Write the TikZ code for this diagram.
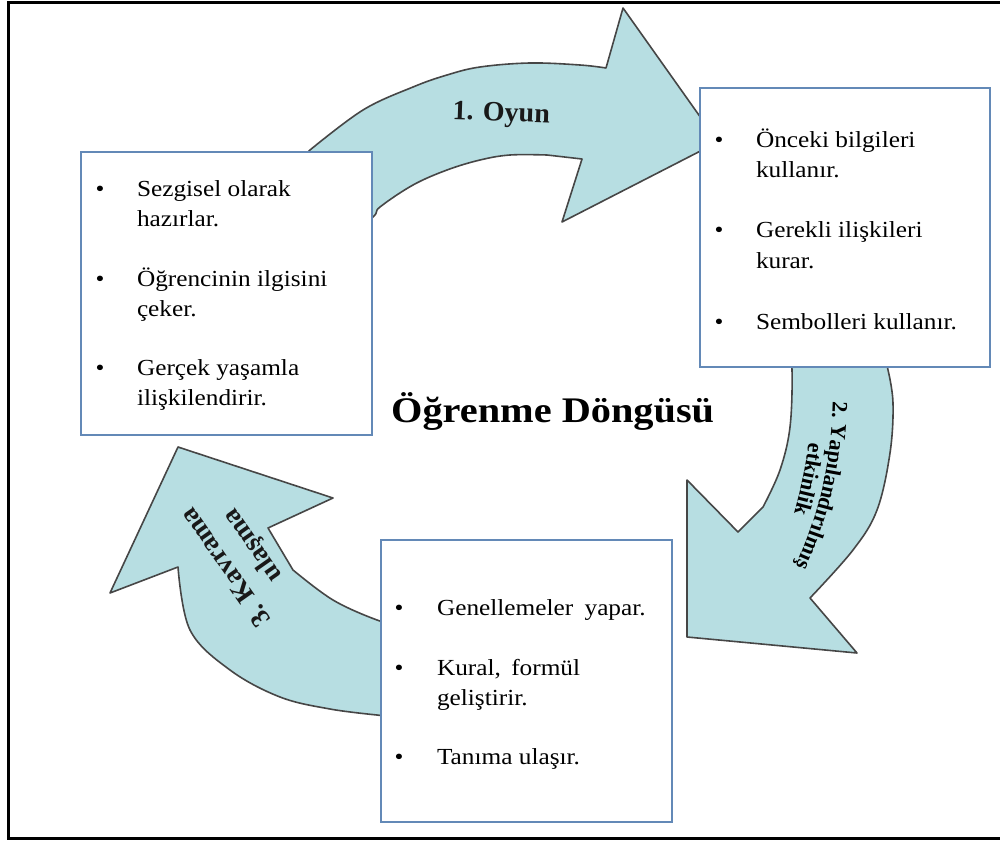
\documentclass[tikz,border=0pt]{standalone}
\usepackage{fontspec}
\setmainfont{Liberation Serif}
\newfontfamily\boxfont[FakeStretch=1.1]{Liberation Serif}
\newfontfamily\headfont[FakeStretch=1.12]{Liberation Serif}
\usetikzlibrary{decorations.text}

\definecolor{arrowfill}{RGB}{183,222,226}
\definecolor{arrowline}{RGB}{70,70,70}
\definecolor{boxline}{RGB}{99,137,183}

\newcommand\labtwo{\bfseries\fontsize{22}{26}\selectfont}

\tikzset{
  arrowshape/.style={fill=arrowfill, draw=arrowline, line width=1.6pt, line join=round},
  listbox/.style={draw=boxline, fill=white, line width=1.3pt, inner sep=0pt, outer sep=0pt},
  itemtext/.style={inner sep=0pt, outer sep=0pt, anchor=base west,
    font=\boxfont\fontsize{23}{28}\selectfont},
  bulletmark/.style={inner sep=0pt, outer sep=0pt, anchor=base,
    font=\boxfont\fontsize{23}{28}\selectfont},
  arrowlabel/.style={inner sep=0pt, outer sep=0pt, text=black!90},
  frameline/.style={draw=black, line width=2.5pt},
}

% one list line: name, x, baseline y, text
\newcommand\itemline[4]{\node[itemtext] (#1) at (#2,#3) {#4};}
\newcommand\itemdot[3]{\node[bulletmark] (#1) at (#2,#3) {\textbullet};}

\begin{document}
\begin{tikzpicture}[x=1pt, y=-1pt]
\useasboundingbox (0,0) rectangle (1000,840);

% outer frame
\draw[frameline] (8.3,2.5) rectangle (1015,838.5);

% curved arrow 1: top, towards the right
\filldraw[arrowshape] (285,175) -- plot[smooth, tension=0.6] coordinates
  {(310,150) (363,110) (413,87) (447,75) (480,67) (530,63) (580,65) (606,68)}
  -- (623,8) -- (718,142) -- (562,222) -- (582,159)
  -- plot[smooth, tension=0.6] coordinates
  {(547,155) (510,155) (480,160) (447,170) (413,185) (380,207) (373,217) (340,245)}
  -- cycle;

% curved arrow 2: right side, downwards
\filldraw[arrowshape] (880,330) -- plot[smooth, tension=0.6] coordinates
  {(888,370) (893,403) (890,453) (877,510) (853,550) (810,598)}
  -- (857,653) -- (687,637) -- (687,480) -- (738,532)
  -- plot[smooth, tension=0.6] coordinates
  {(763,507) (780,470) (790,427) (792,370) (788,340)}
  -- cycle;

% curved arrow 3: lower left, upwards
\filldraw[arrowshape] (400,718) -- plot[smooth, tension=0.6] coordinates
  {(377,715) (330,709) (280,697) (230,670) (190,630) (178,567)}
  -- (110,593) -- (178,447) -- (333,498) -- (268,528)
  -- plot[smooth, tension=0.6] coordinates
  {(293,570) (333,600) (377,620) (400,625)}
  -- cycle;

% arrow labels
\node[arrowlabel, anchor=base, rotate=-2, font=\bfseries\fontsize{28}{32}\selectfont]
  (oyun) at (501,121) {1. Oyun};
\path[decorate, decoration={text along path, text align=center,
    text={|\labtwo|2. Yapılandırılmış}}]
  (833,388) .. controls (833,450) and (822,515) .. (790,578);
\path[decorate, decoration={text along path, text align=center,
    text={|\labtwo|etkinlik}}]
  (810,428) .. controls (808,460) and (800,495) .. (790,528);
\node[arrowlabel, rotate=125, font=\bfseries\fontsize{27}{30}\selectfont]
  (kavrama) at (225,568) {3. Kavrama};
\node[arrowlabel, rotate=125, font=\bfseries\fontsize{27}{30}\selectfont]
  (ulasma) at (253,545) {ulaşma};

% list boxes
\node[listbox, minimum width=291, minimum height=283] (boxA) at (226.5,293.5) {};
\node[listbox, minimum width=290, minimum height=279] (boxB) at (845,227.5) {};
\node[listbox, minimum width=291, minimum height=282] (boxC) at (526.5,681) {};

% first box
\itemdot{a1}{100}{196}
\itemline{a1a}{137}{196}{Sezgisel olarak}
\itemline{a1b}{137}{226}{hazırlar.}
\itemdot{a2}{100}{286}
\itemline{a2a}{137}{286}{Öğrencinin ilgisini}
\itemline{a2b}{137}{316}{çeker.}
\itemdot{a3}{100}{375}
\itemline{a3a}{137}{375}{Gerçek yaşamla}
\itemline{a3b}{137}{405}{ilişkilendirir.}

% second box
\itemdot{b1}{719}{147}
\itemline{b1a}{756}{147}{Önceki bilgileri}
\itemline{b1b}{756}{177}{kullanır.}
\itemdot{b2}{719}{237}
\itemline{b2a}{756}{237}{Gerekli ilişkileri}
\itemline{b2b}{756}{268}{kurar.}
\itemdot{b3}{719}{329}
\itemline{b3a}{756}{329}{Sembolleri kullanır.}

% third box
\itemdot{c1}{399}{615}
\itemline{c1a}{437}{615}{Genellemeler\hspace{5pt} yapar.}
\itemdot{c2}{399}{675}
\itemline{c2a}{437}{675}{Kural,\hspace{4pt} formül}
\itemline{c2b}{437}{705}{geliştirir.}
\itemdot{c3}{399}{764}
\itemline{c3a}{437}{764}{Tanıma ulaşır.}

% title
\node[anchor=base west, inner sep=0pt, font=\headfont\bfseries\fontsize{36}{40}\selectfont]
  (title) at (391,422) {Öğrenme Döngüsü};
\end{tikzpicture}
\end{document}
